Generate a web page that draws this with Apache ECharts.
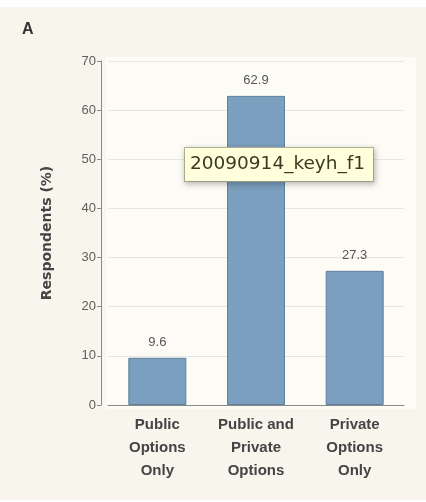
<!DOCTYPE html>
<html>
<head>
<meta charset="utf-8">
<script src="https://cdn.jsdelivr.net/npm/echarts@6/dist/echarts.min.js"></script>
<style>
  html, body { margin: 0; padding: 0; background: #ffffff; }
  #chart { width: 426px; height: 502px; }
</style>
</head>
<body>
<div id="chart"></div>
<script>
// Survey responses: preferred type of health insurance option
const categories = ['Public\nOptions\nOnly', 'Public and\nPrivate\nOptions', 'Private\nOptions\nOnly'];
const respondentsPct = [9.6, 62.9, 27.3];
const yTicks = [0, 10, 20, 30, 40, 50, 60, 70];

const chart = echarts.init(document.getElementById('chart'), null, { renderer: 'canvas' });

const FONT = '"Liberation Sans", "Noto Sans", sans-serif';

chart.setOption({
  backgroundColor: '#ffffff',
  animation: false,
  graphic: [
    { type: 'rect', z: -10, shape: { x: 0, y: 7, width: 426, height: 493 },
      style: { fill: '#f7f5ec' } },
    { type: 'rect', z: -9, shape: { x: 106, y: 57, width: 310, height: 352 },
      style: { fill: '#fcfbf6' } },
    { type: 'text', left: 22, top: 22,
      style: { text: 'A', font: 'bold 16px ' + FONT, fill: '#333' } },
    // hover caption box
    { type: 'text', left: 184, top: 147, z: 100, zlevel: 1,
      style: {
        text: '20090914_keyh_f1',
        font: '18.5px "DejaVu Sans", sans-serif',
        fill: '#3a3a22',
        backgroundColor: '#ffffdc',
        borderColor: '#b8b8a0', borderWidth: 1,
        padding: [7, 5, 7, 5],
        width: 178, align: 'center',
        shadowBlur: 6, shadowColor: 'rgba(0,0,0,0.25)', shadowOffsetX: 1, shadowOffsetY: 2
      } }
  ],
  grid: { left: 108, right: 22, top: 61, bottom: 97, containLabel: false },
  xAxis: {
    type: 'category',
    data: categories,
    axisLine: { show: true, lineStyle: { color: '#8a8a84', width: 1 } },
    axisTick: { show: false },
    axisLabel: {
      interval: 0, margin: 8,
      fontFamily: FONT, fontSize: 15, fontWeight: 'bold',
      color: '#444', lineHeight: 23
    }
  },
  yAxis: {
    type: 'value',
    min: 0, max: 70, interval: 10,
    offset: 7,
    name: 'Respondents (%)',
    nameLocation: 'middle',
    nameGap: 47,
    nameTextStyle: { fontFamily: '"DejaVu Sans", sans-serif', fontSize: 14, fontWeight: 'bold', color: '#444' },
    axisLine: { show: true, lineStyle: { color: '#8a8a84', width: 1 } },
    axisTick: { show: true, length: 4, lineStyle: { color: '#8a8a84' } },
    axisLabel: {
      margin: 5, fontFamily: FONT, fontSize: 13, color: '#5e5e5a',
      formatter: v => yTicks.includes(v) ? String(v) : ''
    },
    splitLine: { show: true, lineStyle: { color: '#e6e5df', width: 1 } }
  },
  series: [{
    type: 'bar',
    data: respondentsPct,
    barWidth: 58,
    itemStyle: { color: '#7b9fbe', borderColor: '#5f7f9c', borderWidth: 1 },
    label: {
      show: true, position: 'top', distance: 9,
      fontFamily: FONT, fontSize: 13, color: '#555',
      formatter: p => p.value.toFixed(1)
    }
  }]
});
</script>
</body>
</html>
